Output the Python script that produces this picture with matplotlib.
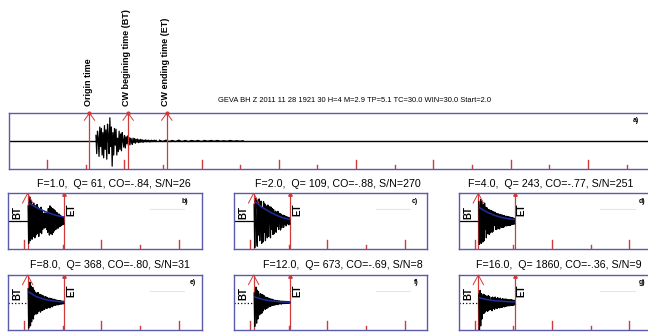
import numpy as np
import matplotlib.pyplot as plt
from matplotlib import font_manager

W, H = 648, 332

# ---- data ----
header = "GEVA BH Z 2011 11 28 1921 30 H=4 M=2.9 TP=5.1 TC=30.0 WIN=30.0 Start=2.0"
origin_t, bt_t, et_t = 62.5, 92.5, 122.5          # seconds on the top trace
mark_labels = ["Origin time", "CW begining time (BT)", "CW ending time (ET)"]
tick_times = [29.5, 59.5, 89.5, 119.5, 149.5, 179.5, 209.5, 239.5,
              269.5, 299.5, 329.5, 359.5, 389.5, 419.5, 449.5, 479.5]

# top trace: main part (dt 0.6 s from 67.5 s) and weak tail (dt 2.5 s)
top_main = [0.2, -0.45, 0.35, 0.1, -0.55, 0.5, -0.2, 0.45, -0.5, 0.3, -0.6,
            0.55, -0.3, 0.4, -0.65, 0.6, 0.2, -0.45, 0.83, -0.2, 0.5, -0.9, 0.3,
            -0.5, 0.45, -0.15, 0.42, -0.5, 0.1, -0.38, 0.35, -0.3, 0.25, -0.35,
            0.3, 0.05, -0.22, 0.2, -0.25, 0.15, -0.1, 0.18, -0.15, 0.12, -0.14,
            0.1, 0.0, -0.12, 0.1, -0.06, 0.09, -0.08, 0.06, -0.04, 0.07, -0.06,
            0.04, -0.05, 0.06, -0.03, 0.04, -0.05, 0.03, -0.02, 0.04, -0.03,
            0.03, -0.02, 0.03, -0.03, 0.02, -0.03, 0.03, -0.02, 0.02, -0.02,
            0.03, -0.02, 0.02]
top_tail = [0.03, -0.02, 0.03, -0.02, 0.02, -0.02, 0.03, -0.02, 0.02, -0.02,
            0.02, -0.01, 0.02, -0.02, 0.02, -0.01, 0.02, -0.01, 0.02, -0.01,
            0.01, -0.01, 0.02, -0.01, 0.01, -0.01, 0.01]

freqs = [1.0, 2.0, 4.0, 8.0, 12.0, 16.0]
qs = [61, 109, 243, 368, 673, 1860]
cos = ["-.84", "-.88", "-.77", "-.80", "-.69", "-.36"]
snrs = [26, 270, 251, 31, 8, 9]
panel_ids = ["b)", "c)", "d)", "e)", "f)", "g)"]
sub_bt, sub_et = 92.3, 120.5

traces = [
    [0.55, -0.8, 0.2, 0.87, -0.7, 0.75, -0.3, -0.65, 0.6, -0.55, 0.65, 0.2,
     -0.6, 0.55, -0.5, 0.3, 0.6, -0.45, 0.5, -0.55, 0.1, 0.45, -0.4, 0.5, -0.45, 0.4,
     -0.3, 0.28, -0.1, -0.25, 0.3, -0.22, 0.25, -0.3, 0.3,
     -0.4, 0.45, 0.1, -0.5, 0.55, -0.45, 0.5, -0.2, -0.48, 0.45, -0.4, 0.42, -0.35, 0.38, -0.3, 0.32,
     -0.28, 0.3, -0.1, -0.25, 0.26, -0.2, 0.22, -0.18, 0.18, -0.15, 0.14, -0.12, 0.12, -0.1],
    [0.6, -0.95, 0.4, 0.83, -0.6, -0.9, 0.75, -0.5, 0.8, -0.7, 0.5, 0.72, -0.8, 0.45,
     -0.75, 0.7, -0.4, 0.62, -0.7, 0.55, -0.35, -0.6, 0.58, -0.55, 0.3, 0.52, -0.6,
     0.5, -0.3, 0.45, -0.48, 0.42, -0.45, 0.25, 0.36, -0.4, 0.33, -0.2, 0.35, -0.3,
     0.15, 0.28, -0.32, 0.25, -0.24, 0.1, 0.22, -0.22, 0.2, -0.12, 0.18, -0.17, 0.16,
     -0.1, 0.14, -0.13, 0.12, -0.1],
    [0.7, -0.83, 0.3, 0.77, -0.8, 0.72, -0.4, -0.75, 0.6, -0.7, 0.65, -0.3, 0.5, -0.6, 0.48,
     -0.45, 0.2, 0.42, -0.48, 0.4, -0.42, 0.1, 0.38, -0.4, 0.35, -0.36, 0.33, -0.15, 0.32,
     -0.3, 0.28, -0.3, 0.1, 0.27, -0.26, 0.25, -0.28, 0.24, -0.1, -0.22, 0.23, -0.22, 0.2, -0.22, 0.2,
     -0.18, 0.05, 0.18, -0.17, 0.17, -0.16, 0.16, -0.15, 0.15, -0.16, 0.14, -0.13, 0.13,
     -0.12, 0.12, -0.11, 0.1, -0.1],
    [0.5, -0.93, 0.3, 0.74, -0.85, 0.6, -0.7, 0.2, 0.55, -0.6, 0.45,
     -0.45, 0.38, -0.2, -0.42, 0.35, -0.4, 0.36, -0.32, 0.1, 0.3, -0.35, 0.28, -0.3, 0.26,
     -0.28, 0.24, -0.1, -0.25, 0.22, -0.2, 0.2, -0.22, 0.18, -0.18, 0.05, 0.16, -0.2, 0.15,
     -0.14, 0.14, -0.16, 0.12, -0.12, 0.12, -0.1, 0.1, -0.1, 0.09, -0.08, 0.08, -0.09,
     0.07, -0.07, 0.07, -0.06, 0.06, -0.06, 0.05, -0.05, 0.05, -0.04],
    [0.35, -0.87, 0.1, 0.56, -0.75, 0.45, -0.6, 0.4, -0.2, -0.45, 0.32, -0.4, 0.3, -0.38,
     0.28, -0.3, 0.25, -0.1, -0.25, 0.2, -0.22, 0.18, -0.2, 0.16, -0.15, 0.14, -0.15, 0.13,
     -0.12, 0.12, -0.1, 0.1, -0.1, 0.08, -0.09, 0.08, -0.07, 0.07, -0.08, 0.06, -0.06, 0.06,
     -0.05, 0.05, -0.06, 0.05, -0.04, 0.05, -0.04, 0.04, -0.04, 0.04, -0.03, 0.04, -0.03,
     0.03, -0.03, 0.03, -0.02],
    [0.3, -1.0, 0.44, -0.85, 0.32, -0.6, 0.1, 0.3, -0.4, 0.28, -0.35, 0.25, -0.3, 0.2, -0.32,
     0.25, -0.28, 0.22, -0.05, -0.25, 0.18, -0.3, 0.2, -0.22, 0.16, -0.25, 0.2, -0.2, 0.15,
     -0.22, 0.18, -0.18, 0.14, -0.2, 0.16, -0.17, 0.12, -0.18, 0.14, -0.15, 0.12, -0.16,
     0.13, -0.14, 0.12, -0.13, 0.1, -0.12, 0.11, -0.12, 0.1, -0.1, 0.1, -0.11, 0.09, -0.1,
     0.08, -0.08],
]
envelopes = [
    [0.65, 0.5, 0.38, 0.28, 0.2, 0.15],
    [0.71, 0.5, 0.35, 0.22, 0.12, 0.06],
    [0.48, 0.33, 0.22, 0.14, 0.09, 0.06],
    [0.38, 0.22, 0.13, 0.07, 0.04, 0.02],
    [0.2, 0.12, 0.07, 0.04, 0.02, 0.01],
    [0.17, 0.11, 0.07, 0.05, 0.03, 0.02],
]

# ---- style ----
RED = "#d23a3a"
SPINE = "#5a5aae"
BLUE = "#1f2f9a"
PX_PER_S = 1.288

names = {f.name for f in font_manager.fontManager.ttflist}
if "Liberation Sans Narrow" in names:
    hdr_font, hdr_size = "Liberation Sans Narrow", 6.6
else:
    hdr_font, hdr_size = "Liberation Sans", 5.4
plt.rcParams["font.family"] = ["Liberation Sans", "DejaVu Sans"]

fig = plt.figure(figsize=(W / 100, H / 100), dpi=100)


def px_axes(x0, y0, x1, y1):
    ax = fig.add_axes([x0 / W, 1 - y1 / H, (x1 - x0) / W, (y1 - y0) / H])
    ax.set_ylim(-1, 1)
    ax.set_xticks([])
    ax.set_yticks([])
    for s in ax.spines.values():
        s.set_color(SPINE)
        s.set_linewidth(1.0)
    return ax


def draw_ticks(ax):
    for i, t in enumerate(tick_times):
        h = 0.32 if i % 2 == 0 else 0.14
        ax.plot([t, t], [-1, -1 + h], color=RED, lw=1.0, zorder=2)


def chevron(ax, t, dx, dy):
    ax.plot([t - dx, t, t + dx], [1 - dy, 1, 1 - dy], color=RED, lw=0.7,
            clip_on=False, zorder=4)


# ---- top panel a) ----
ax = px_axes(9, 113, 650, 169)
ax.set_xlim(0, (650 - 9) / PX_PER_S)
ax.axhline(0, color="black", lw=1.0, zorder=1)
draw_ticks(ax)
t_main = np.linspace(67.5, 67.5 + 0.6 * (len(top_main) - 1), len(top_main))
t_tail = np.linspace(t_main[-1] + 2.5, t_main[-1] + 2.5 * len(top_tail), len(top_tail))
ax.plot(t_main, top_main, color="black", lw=0.9, zorder=3)
ax.plot(t_tail, top_tail, color="black", lw=0.9, zorder=3)
for t, lab in zip([origin_t, bt_t, et_t], mark_labels):
    ax.plot([t, t], [-1, 1], color=RED, lw=0.9, zorder=4)
    chevron(ax, t, 4.0, 0.26)
    ax.plot([t], [1], "o", color=RED, ms=2, clip_on=False, zorder=5)
    ax.text(t - 1.0, 1.13, lab, transform=ax.get_xaxis_transform(), rotation=90,
            ha="center", va="bottom", fontsize=6.5, fontweight="bold")
ax.text(0.978, 0.86, "a)", transform=ax.transAxes, fontsize=5, fontweight="bold",
        ha="center", va="center")
fig.text(218 / W, 1 - 101 / H, header, family=[hdr_font, "DejaVu Sans"],
         fontsize=hdr_size, ha="left", va="center")

# ---- sub panels b) - g) ----
boxes = [(8.3, 193.3, 201.7, 249), (234.3, 193.3, 426.7, 249), (459, 193.3, 652, 249),
         (8.3, 275, 201.7, 330), (234.3, 275, 426.7, 330), (459, 275, 652, 330)]
title_pos = [(114, 184), (337.5, 184), (551, 184), (110, 265), (343, 265), (559, 265)]
id_x = [0.914, 0.939, 0.947, 0.953, 0.948, 0.947]
zero_styles = ["-", "-", "-", ":", ":", ":"]

for k in range(6):
    x0, y0, x1, y1 = boxes[k]
    ax = px_axes(x0, y0, x1, y1)
    ax.set_xlim(77.3, 77.3 + (x1 - x0) / PX_PER_S)
    draw_ticks(ax)
    ax.plot([77.3, sub_bt], [0, 0], color="black", lw=0.9, ls=zero_styles[k], zorder=1)
    tr = traces[k]
    tt = np.linspace(sub_bt + 0.4, sub_et, len(tr))
    ax.plot(tt, tr, color="black", lw=0.9, zorder=3)
    te = np.linspace(sub_bt + 1.0, sub_et, len(envelopes[k]))
    ax.plot(te, envelopes[k], color=BLUE, lw=1.1, zorder=4)
    # BT and ET markers
    ax.plot([sub_bt, sub_bt], [-1, 1], color=RED, lw=0.9, zorder=2)
    chevron(ax, sub_bt, 4.0, 0.35)
    ax.plot([sub_et, sub_et], [-1, 1], color=RED, lw=0.9, zorder=2)
    ax.plot([sub_et], [0.97], "^", color=RED, ms=2.5, zorder=5)
    ax.text(sub_bt - 7.8, 0.32, "BT", rotation=90, ha="center", va="center",
            fontsize=7, fontweight="bold")
    ax.text(sub_et + 5.4, 0.42, "ET", rotation=90, ha="center", va="center",
            fontsize=7, fontweight="bold")
    ax.plot([187, 214], [0.43, 0.43], color="#e6e6e6", lw=0.8, zorder=1)
    ax.text(id_x[k], 0.86, panel_ids[k], transform=ax.transAxes, fontsize=5,
            fontweight="bold", ha="center", va="center")
    title = f"F={freqs[k]:.1f},  Q= {qs[k]}, CO={cos[k]}, S/N={snrs[k]}"
    fig.text(title_pos[k][0] / W, 1 - title_pos[k][1] / H, title,
             fontsize=7.7, ha="center", va="center")

fig.savefig("out.png", dpi=100)
